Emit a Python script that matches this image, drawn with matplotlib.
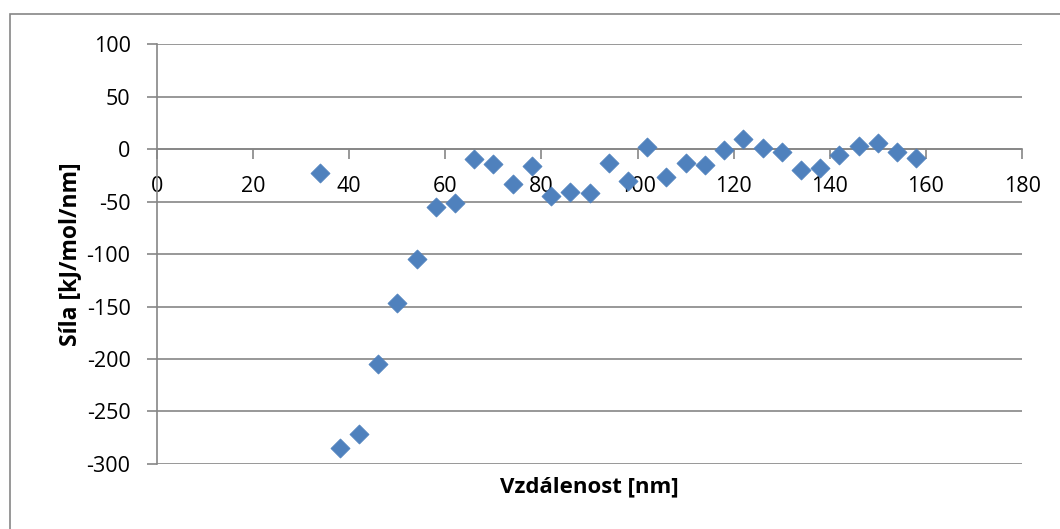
import matplotlib
matplotlib.use('Agg')
import matplotlib.pyplot as plt
from matplotlib.patches import Rectangle

plt.rcParams['font.family'] = ['Open Sans', 'DejaVu Sans']
plt.rcParams['axes.unicode_minus'] = False

# distance [nm] and force [kJ/mol/nm]
vzdalenost = [34, 38, 42, 46, 50, 54, 58, 62, 66, 70, 74, 78, 82, 86, 90, 94,
              98, 102, 106, 110, 114, 118, 122, 126, 130, 134, 138, 142, 146, 150, 154, 158]
sila = [-23, -285, -272, -205, -147, -105, -55, -51, -9, -14, -33, -16, -45, -41, -42, -13,
        -30, 2, -26, -13, -15, -1, 10, 1, -3, -20, -18, -5, 3, 6, -3, -8]

x_ticks = [0, 20, 40, 60, 80, 100, 120, 140, 160, 180]
y_ticks = [100, 50, 0, -50, -100, -150, -200, -250, -300]

grey = '#868686'

fig = plt.figure(figsize=(10.6, 5.29), dpi=100)
ax = fig.add_axes([0.1481, 0.1234, 0.8161, 0.7925])

# chart area border (only top/left visible in the picture)
fig.patches.append(Rectangle((10 / 1060, -0.05), 1.2, 0.05 + 1 - 14 / 529,
                             transform=fig.transFigure, fill=False,
                             edgecolor=grey, lw=1.2))

ax.scatter(vzdalenost, sila, marker='D', s=95, color='#4F81BD',
           edgecolor='#4F81BD', linewidth=0.5, zorder=3)

ax.set_xlim(0, 180)
ax.set_ylim(-300, 100)
ax.set_xticks(x_ticks)
ax.set_yticks(y_ticks)

ax.grid(axis='y', color=grey, lw=1.2)
ax.set_axisbelow(True)

ax.spines['top'].set_visible(False)
ax.spines['right'].set_visible(False)
ax.spines['bottom'].set_position(('data', 0))
for s in ['left', 'bottom']:
    ax.spines[s].set_color(grey)
    ax.spines[s].set_linewidth(1.2)

ax.tick_params(axis='both', direction='out', length=7, width=1.2, color=grey,
               labelsize=15.5, labelcolor='black')
ax.tick_params(axis='x', pad=12)
ax.tick_params(axis='y', pad=12)

ax.text(-0.1006, 0.5, 'Síla [kJ/mol/nm]', transform=ax.transAxes, rotation=90,
        ha='center', va='center', fontsize=16.5, fontweight='bold')
ax.text(0.5, -0.0556, 'Vzdálenost [nm]', transform=ax.transAxes,
        ha='center', va='center', fontsize=16, fontweight='bold')

fig.savefig('out.png', dpi=100)
